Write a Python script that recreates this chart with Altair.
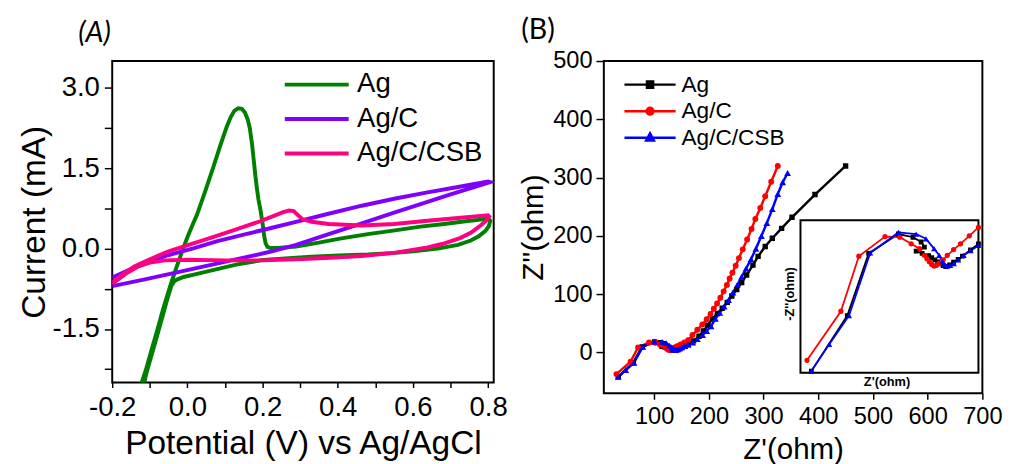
import altair as alt
import pandas as pd

FONT = "Liberation Sans"

# ---------------- Panel A: cyclic voltammetry ----------------
series_a = ["Ag", "Ag/C", "Ag/C/CSB"]
colors_a = ["#008000", "#8000ff", "#ff0080"]

ag_v = [-0.124, -0.111, -0.097, -0.080, -0.065, -0.052, -0.043, -0.030, -0.015, 0.000, 0.013,
        0.026, 0.048, 0.069, 0.087, 0.104, 0.115, 0.125, 0.135, 0.145, 0.153, 0.160, 0.166,
        0.172, 0.177, 0.181, 0.185, 0.189, 0.195, 0.200, 0.204, 0.208, 0.213, 0.222, 0.240,
        0.289, 0.350, 0.402, 0.480, 0.552, 0.620, 0.683, 0.740, 0.780, 0.800,
        0.806, 0.802, 0.793, 0.775, 0.754, 0.720, 0.666, 0.600, 0.552, 0.480, 0.402, 0.330,
        0.289, 0.203, 0.130, 0.062, 0.020, -0.010, -0.025, -0.035, -0.043, -0.055, -0.070,
        -0.085, -0.100, -0.110, -0.116]
ag_i = [-2.55, -2.28, -1.93, -1.52, -1.14, -0.84, -0.64, -0.37, -0.07, 0.21, 0.43,
        0.64, 1.08, 1.52, 1.91, 2.26, 2.45, 2.57, 2.62, 2.61, 2.54, 2.42, 2.25,
        1.95, 1.62, 1.35, 1.12, 0.92, 0.70, 0.47, 0.25, 0.10, 0.03, 0.01, 0.01,
        0.04, 0.11, 0.18, 0.27, 0.34, 0.41, 0.46, 0.51, 0.54, 0.57,
        0.52, 0.42, 0.33, 0.23, 0.15, 0.07, 0.00, -0.05, -0.08, -0.11, -0.13, -0.15,
        -0.17, -0.21, -0.30, -0.41, -0.48, -0.53, -0.57, -0.61, -0.70, -0.98, -1.36,
        -1.74, -2.10, -2.35, -2.55]

agc_v = [-0.200, -0.150, -0.113, -0.050, 0.018, 0.080, 0.150, 0.220, 0.289, 0.370, 0.464,
         0.550, 0.639, 0.720, 0.800,
         0.805, 0.750, 0.700, 0.639, 0.550, 0.464, 0.380, 0.289, 0.220, 0.150, 0.060,
         -0.025, -0.110, -0.200]
agc_i = [-0.54, -0.38, -0.27, -0.12, 0.01, 0.14, 0.26, 0.38, 0.50, 0.64, 0.80,
         0.93, 1.05, 1.15, 1.25,
         1.24, 1.12, 1.01, 0.87, 0.67, 0.47, 0.28, 0.07, -0.06, -0.17, -0.31,
         -0.44, -0.57, -0.70]

csb_v = [-0.200, -0.170, -0.140, -0.113, -0.080, -0.050, 0.018, 0.062, 0.130, 0.194, 0.230,
         0.255, 0.270, 0.283, 0.293, 0.306, 0.330, 0.376, 0.464, 0.550, 0.639, 0.720, 0.800,
         0.803, 0.795, 0.780, 0.755, 0.727, 0.680, 0.639, 0.550, 0.464, 0.380, 0.289, 0.200,
         0.100, 0.000, -0.060, -0.100, -0.130, -0.160, -0.200]
csb_i = [-0.63, -0.47, -0.33, -0.24, -0.14, -0.05, 0.10, 0.20, 0.36, 0.51, 0.61,
         0.68, 0.71, 0.70, 0.63, 0.55, 0.50, 0.46, 0.43, 0.46, 0.52, 0.57, 0.62,
         0.60, 0.52, 0.43, 0.30, 0.20, 0.09, 0.02, -0.08, -0.14, -0.17, -0.20, -0.22,
         -0.22, -0.21, -0.22, -0.26, -0.33, -0.45, -0.66]

xa_ticks = [-0.2, -0.1, 0.0, 0.1, 0.2, 0.3, 0.4, 0.5, 0.6, 0.7, 0.8]
ya_ticks = [-2.25, -1.5, -0.75, 0.0, 0.75, 1.5, 2.25, 3.0]

# ---------------- Panel B: Nyquist plots ----------------
samples_b = ["Ag", "Ag/C", "Ag/C/CSB"]
colors_b = ["#000000", "#ff0000", "#0000ff"]

ag_zr = [34.3, 61.8, 78.1, 100.8, 112.0, 118.2, 120.7, 114.4, 119.0, 123.9, 126.3, 128.7,
         130.8, 132.8, 135.0, 137.0, 140.0, 143.0, 146.5, 149.8, 155.9, 162.0, 172, 182,
         190, 198, 206.5, 215.5, 224.4, 233.6, 242, 251, 260, 269, 280.6, 290, 303, 316,
         333, 352, 394, 450]
ag_zi = [-41.7, -17.4, 9.8, 18.3, 16.9, 14.8, 12.6, 10.8, 9.8, 8.8, 7.9, 7.0,
         6.1, 5.2, 4.5, 4.0, 4.8, 6.0, 7.2, 8.6, 11.3, 14.0, 20, 28,
         37, 47, 58, 67, 76, 86, 97, 108, 120, 133, 150, 165, 182, 196,
         213, 232, 271, 320]

agc_zr = [31.0, 56.9, 70.6, 90.6, 101.9, 110.6, 117.0, 120.7, 122.6, 124.5, 126.3, 128.1,
          130.0, 132.0, 135.0, 138.2, 143.0, 148.3, 155.0, 162.0, 170, 179, 188, 196,
          203, 209, 215, 221, 227, 233, 238, 243, 249, 255, 262, 270, 278, 285, 294,
          303, 314, 326]
agc_zi = [-37.0, -15.5, 8.6, 17.2, 16.9, 14.0, 11.9, 9.0, 7.5, 6.2, 5.0, 4.3,
          4.6, 5.4, 7.0, 9.0, 11.5, 14.0, 17.5, 21.2, 30, 39, 48, 57,
          66, 75, 84, 94, 105, 116, 127, 137, 149, 162, 177, 194, 212, 229, 248,
          268, 293, 320]

csb_zr = [34.3, 48, 63.1, 79.3, 100.8, 114.4, 121.9, 128.1, 132.0, 134.4, 136.3, 138.2,
          140.5, 143.2, 146.5, 150.7, 156.0, 162.0, 170.6, 179, 188.5, 196, 204, 212,
          220, 228, 236, 244, 252, 260, 268, 277, 286, 296, 306, 316, 326, 335, 344]
csb_zi = [-41.7, -30, -17.4, 10.0, 19.0, 18.3, 16.2, 11.9, 9.0, 6.2, 5.0, 4.3,
          4.6, 5.4, 7.0, 9.0, 11.0, 13.3, 17, 23, 30, 37, 45, 58,
          68, 79, 90, 103, 116, 130, 144, 160, 178, 200, 222, 246, 272, 292, 308]

xb_ticks = [100, 200, 300, 400, 500, 600, 700]
yb_ticks = [0, 100, 200, 300, 400, 500]

# inset window (data units of the main Nyquist plot)
inset_zr = [26, 162]
inset_zi = [-42.4, 24.3]


def table(names, xs, ys, key, xc, yc):
    rows = []
    for name, xv, yv in zip(names, xs, ys):
        for k, (a, b) in enumerate(zip(xv, yv)):
            rows.append({key: name, "idx": k, xc: a, yc: b})
    return pd.DataFrame(rows)


dfa = table(series_a, [ag_v, agc_v, csb_v], [ag_i, agc_i, csb_i], "series", "v", "i")
dfb = table(samples_b, [ag_zr, agc_zr, csb_zr], [ag_zi, agc_zi, csb_zi], "sample", "zr", "zi")

# ---------------- build panel A ----------------
lab_a_x = ("abs(round(datum.value*10)) % 2 == 0 ? "
           "replace(format(datum.value, '.1f'), '\u2212', '-') : ''")
lab_a_y = ("abs(round(datum.value/0.75)) % 2 == 0 ? "
           "replace(format(datum.value, '.1f'), '\u2212', '-') : ''")

xa = alt.X("v:Q", scale=alt.Scale(domain=[-0.2, 0.815], nice=False, zero=False),
           axis=alt.Axis(values=xa_ticks, labelExpr=lab_a_x, title="Potential (V) vs Ag/AgCl",
                         labelFont=FONT, labelFontSize=28, labelColor="black",
                         titleFont=FONT, titleFontSize=34, titleFontWeight="normal",
                         titleColor="black", titlePadding=5, tickSize=5, tickWidth=1.5,
                         tickColor="black", labelPadding=7, domain=False, grid=False,
                         labelFlush=False, labelOverlap=False))
ya = alt.Y("i:Q", scale=alt.Scale(domain=[-2.5, 3.5], nice=False, zero=False),
           axis=alt.Axis(values=ya_ticks, labelExpr=lab_a_y, title="Current (mA)",
                         labelFont=FONT, labelFontSize=28, labelColor="black",
                         titleFont=FONT, titleFontSize=34, titleFontWeight="normal",
                         titleColor="black", titlePadding=1, tickSize=8, tickWidth=1.5,
                         tickColor="black", labelPadding=5, domain=False, grid=False,
                         labelFlush=False, labelOverlap=False))

leg_a = alt.Legend(orient="none", legendX=193, legendY=9, title=None,
                   symbolType="M-2.5,0H2.5", symbolSize=676, symbolStrokeWidth=4,
                   labelFont=FONT, labelFontSize=28, labelColor="black",
                   labelOffset=26, rowPadding=6)

lines_a = alt.Chart(dfa).mark_line(strokeWidth=4, clip=True).encode(
    x=xa, y=ya,
    color=alt.Color("series:N", scale=alt.Scale(domain=series_a, range=colors_a),
                    legend=leg_a, sort=series_a),
    order=alt.Order("idx:Q"),
)
tag_a = alt.Chart(pd.DataFrame({"t": ["(A)"]})).mark_text(
    font="Lato", fontSize=29, fontStyle="italic", color="black"
).encode(text="t:N", x=alt.value(-18), y=alt.value(-28))

panel_a = alt.layer(lines_a, tag_a).properties(width=388, height=327)

# ---------------- build panel B ----------------
colB = alt.Scale(domain=samples_b, range=colors_b)
shapes_b = ["square", "circle", "triangle-up"]
sizes_b = [30, 36, 48]
leg_paths = [
    "M-2.5,0H2.5M-0.3,-0.3H0.3V0.3H-0.3Z",
    "M-2.5,0H2.5M0.33,0A0.33,0.33,0,1,1,-0.33,0A0.33,0.33,0,1,1,0.33,0Z",
    "M-2.5,0H2.5M0,-0.42L0.38,0.28H-0.38Z",
]

xb = alt.X("zr:Q", scale=alt.Scale(domain=[8, 700], nice=False, zero=False),
           axis=alt.Axis(values=xb_ticks, title="Z'(ohm)", labelFont=FONT, labelFontSize=24,
                         labelColor="black", titleFont=FONT, titleFontSize=30,
                         titleFontWeight="normal", titleColor="black", titlePadding=6,
                         tickSize=6, tickWidth=1.5, tickColor="black", labelPadding=6,
                         domain=False, grid=False, labelFlush=False, labelOverlap=False))
yb = alt.Y("zi:Q", scale=alt.Scale(domain=[-70, 500], nice=False, zero=False),
           axis=alt.Axis(values=yb_ticks, title="Z''(ohm)", labelFont=FONT, labelFontSize=24,
                         labelColor="black", titleFont=FONT, titleFontSize=30,
                         titleFontWeight="normal", titleColor="black", titlePadding=4,
                         tickSize=8, tickWidth=1.5, tickColor="black", labelPadding=4,
                         domain=False, grid=False, labelFlush=False, labelOverlap=False))


def point_layers(df, x, y, scale=1.0):
    out = []
    for name, shp, sz in zip(samples_b, shapes_b, sizes_b):
        out.append(
            alt.Chart(df).transform_filter(alt.datum.sample == name)
            .mark_point(shape=shp, filled=True, size=sz * scale, opacity=1, clip=True)
            .encode(x=x, y=y, color=alt.Color("sample:N", scale=colB, legend=None))
        )
    return out


lines_b = alt.Chart(dfb).mark_line(strokeWidth=2.5, clip=True).encode(
    x=xb, y=yb, color=alt.Color("sample:N", scale=colB, legend=None), order=alt.Order("idx:Q")
)

leg_b = alt.Legend(orient="none", legendX=35, legendY=12, title=None,
                   symbolSize=433, symbolStrokeWidth=2.5, symbolOpacity=1,
                   labelFont=FONT, labelFontSize=23, labelColor="black",
                   labelOffset=20, rowPadding=3)
legend_b = alt.Chart(dfb).mark_point(
    filled=True, strokeWidth=2.5, opacity=0, size=433
).encode(
    x=xb, y=yb,
    fill=alt.Fill("sample:N", scale=alt.Scale(domain=samples_b, range=colors_b), legend=leg_b),
    stroke=alt.Stroke("sample:N", scale=alt.Scale(domain=samples_b, range=colors_b), legend=leg_b),
    shape=alt.Shape("sample:N", scale=alt.Scale(domain=samples_b, range=leg_paths), legend=leg_b),
)

tag_b = alt.Chart(pd.DataFrame({"t": ["(B)"]})).mark_text(
    font="Lato", fontSize=29, color="black"
).encode(text="t:N", x=alt.value(-67), y=alt.value(-31))

main_b = alt.layer(legend_b, lines_b, *point_layers(dfb, xb, yb), tag_b)

# inset: zoom of the high-frequency region
xi = alt.X("zr:Q", scale=alt.Scale(domain=inset_zr, range=[200, 381], nice=False, zero=False),
           axis=None)
yi = alt.Y("zi:Q", scale=alt.Scale(domain=inset_zi, range=[317, 162], nice=False, zero=False),
           axis=None)
dfi = dfb[(dfb.zr >= inset_zr[0]) & (dfb.zr <= inset_zr[1])]

inset_frame = alt.Chart(pd.DataFrame({"zr": [inset_zr[0]], "zr2": [inset_zr[1]],
                                      "zi": [inset_zi[0]], "zi2": [inset_zi[1]]})).mark_rect(
    fill="white", stroke="black", strokeWidth=2
).encode(x=xi, x2="zr2:Q", y=yi, y2="zi2:Q")

inset_lines = alt.Chart(dfi).mark_line(strokeWidth=1.8).encode(
    x=xi, y=yi, color=alt.Color("sample:N", scale=colB, legend=None), order=alt.Order("idx:Q")
)
inset_xlab = alt.Chart(pd.DataFrame({"t": ["Z'(ohm)"]})).mark_text(
    font=FONT, fontSize=13, fontWeight="bold", color="black"
).encode(text="t:N", x=alt.value(288), y=alt.value(327))
inset_ylab = alt.Chart(pd.DataFrame({"t": ["-Z''(ohm)"]})).mark_text(
    font=FONT, fontSize=13, fontWeight="bold", color="black", angle=270
).encode(text="t:N", x=alt.value(189), y=alt.value(237))

inset_b = alt.layer(inset_frame, inset_lines, *point_layers(dfi, xi, yi, 0.8),
                    inset_xlab, inset_ylab)

panel_b = alt.layer(main_b, inset_b).resolve_scale(x="independent", y="independent").properties(
    width=385, height=338
)

chart = alt.hconcat(panel_a, panel_b, spacing=9).resolve_scale(
    color="independent", fill="independent", stroke="independent", shape="independent"
).resolve_legend(
    color="independent", fill="independent", stroke="independent", shape="independent"
).properties(
    padding={"left": 8, "top": 4, "right": 0, "bottom": 0},
    background="white",
).configure_view(stroke="black", strokeWidth=2)

chart.save("out.html", embed_options={"renderer": "svg", "actions": False})
